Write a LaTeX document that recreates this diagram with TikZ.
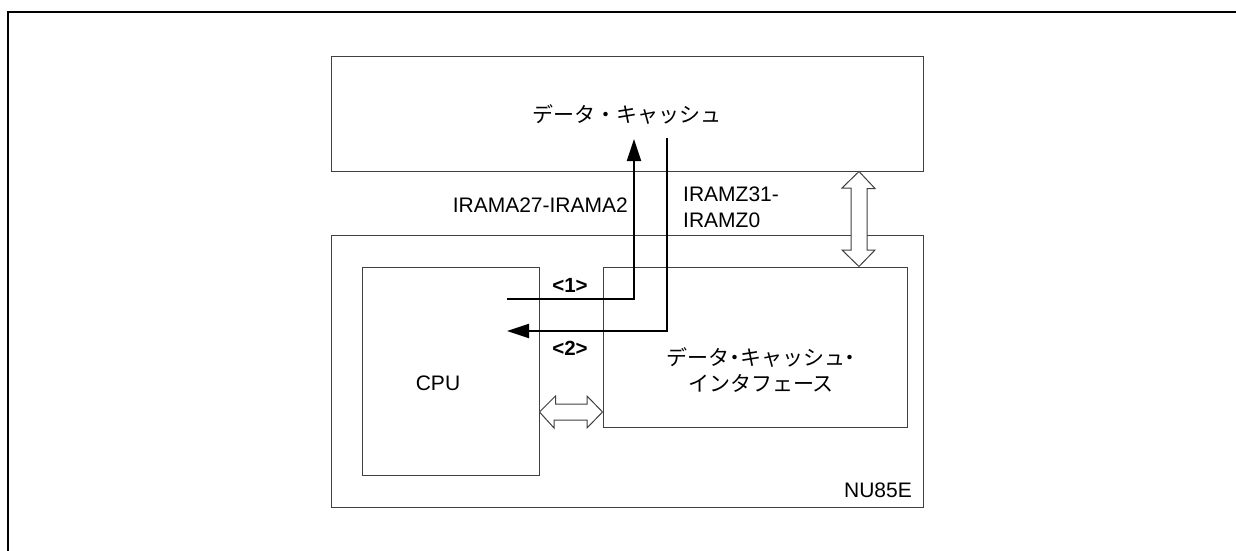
\documentclass[tikz,border=0pt]{standalone}
\usepackage{fontspec}
\setmainfont{Liberation Sans}
\newfontfamily\jp{Noto Sans CJK JP}
\newfontfamily\jphalf[RawFeature=+halt]{Noto Sans CJK JP}
\usetikzlibrary{arrows.meta}

\tikzstyle{block}=[rectangle,
                     draw=black!75,
                     line width=1pt,
                     inner sep=0pt, ]
\tikzstyle{label_text}=[font=\fontsize{21}{26}\selectfont,
                          inner sep=0pt, ]
\tikzstyle{signal}=[line width=2.2pt,
                      -{Triangle[length=22pt,width=14pt]}, ]
\tikzstyle{bus}=[draw=black!75,
                   line width=1pt,
                   fill=white, ]

\begin{document}
\begin{tikzpicture}[x=1pt,y=-1pt]
  \useasboundingbox (0,0) rectangle (1236,551);
  % Frame
  % -------------------------------------------------------------
  \draw[line width=1.3pt] (8,560) -- (8,12) -- (1240,12);

  % Blocks
  % -------------------------------------------------------------
  \node at (627,114) (dcache) [block, minimum width=592, minimum height=114,
        label_text, font=\jp\fontsize{21}{26}\selectfont] {データ・キャッシュ};
  \node at (627,371) (nu85e) [block, minimum width=592, minimum height=272] {};
  \node at (450.5,371) (cpu) [block, minimum width=177, minimum height=208] {};
  \node at (755,347) (dcif) [block, minimum width=304, minimum height=160] {};

  \node at (438,383) (cpu_text) [label_text] {CPU};
  \node at (761,370) (dcif_text) [label_text, align=center,
        font=\jphalf\fontsize{21}{26}\selectfont] {データ・キャッシュ・\\インタフェース};
  \node at (878,490) (nu85e_text) [label_text] {NU85E};

  % Signals
  % -------------------------------------------------------------
  \coordinate (addr_start) at (507,299);
  \coordinate (addr_end) at (634,139);
  \coordinate (data_start) at (667,138);
  \coordinate (data_end) at (507,331);
  \draw[signal] (addr_start) -- (addr_start -| addr_end) -- (addr_end);
  \draw[signal] (data_start) -- (data_start |- data_end) -- (data_end);

  \node at (628,205) (addr_text) [label_text, anchor=east] {IRAMA27-IRAMA2};
  \node at (683,207) (data_text) [label_text, anchor=west, align=left] {IRAMZ31-\\IRAMZ0};
  \node at (570,285) (step_1) [label_text, font=\bfseries\fontsize{20.5}{24}\selectfont] {<1>};
  \node at (570,348) (step_2) [label_text, font=\bfseries\fontsize{20.5}{24}\selectfont] {<2>};

  % Buses
  % -------------------------------------------------------------
  \draw[bus] (dcache.south -| 859,0) -- ++(16,17) -- ++(-8,0) -- (867,250) -- ++(8,0)
        -- (dcif.north -| 859,0) -- (842,250) -- ++(9,0) -- (851,188) -- ++(-9,0) -- cycle;
  \draw[bus] (cpu.east |- 0,412) -- ++(16,-16) -- ++(0,8) -- (587,404) -- ++(0,-8)
        -- (dcif.west |- 0,412) -- (587,428) -- ++(0,-8) -- (554,420) -- ++(0,8) -- cycle;
\end{tikzpicture}
\end{document}
